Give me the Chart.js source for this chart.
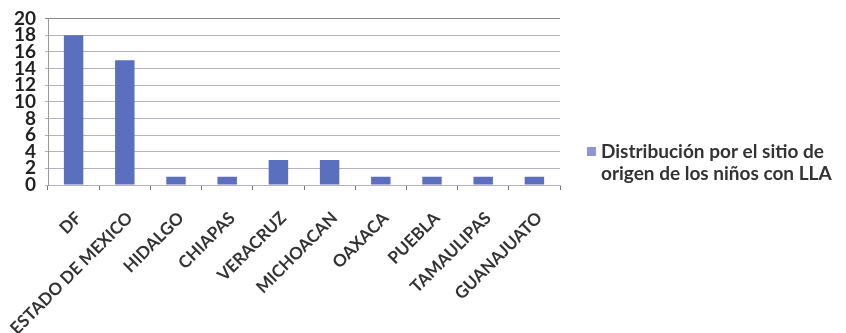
<!DOCTYPE html>
<html>
<head>
<meta charset="utf-8">
<script src="https://cdn.jsdelivr.net/npm/chart.js@4"></script>
<style>
  body { margin: 0; background: #fff; }
  #wrap { width: 846px; height: 333px; }
</style>
</head>
<body>
<div id="wrap"><canvas id="origen-chart"></canvas></div>
<script>
// Origin of the children, by state
const estados = ["DF", "ESTADO DE MEXICO", "HIDALGO", "CHIAPAS", "VERACRUZ", "MICHOACAN", "OAXACA", "PUEBLA", "TAMAULIPAS", "GUANAJUATO"];
const ninos = [18, 15, 1, 1, 3, 3, 1, 1, 1, 1];
const serieLabel = ["Distribución por el sitio de", "origen de los niños con LLA"];
const yTicks = [0, 2, 4, 6, 8, 10, 12, 14, 16, 18, 20];

const barColor = '#5b6fbf';
const gridColor = '#b9aec8';

// legend drawn by hand so the label can wrap on two lines
const sideLegend = {
    id: 'sideLegend',
    afterDraw(chart) {
        const ctx = chart.ctx;
        ctx.save();
        ctx.fillStyle = '#8d96d6';
        ctx.fillRect(587, 147, 9, 9);
        ctx.fillStyle = '#333';
        ctx.font = 'bold 19px Lato';
        ctx.textBaseline = 'middle';
        ctx.fillText(serieLabel[0], 601, 152);
        ctx.fillText(serieLabel[1], 601, 174);
        ctx.restore();
    }
};

const origenChart = new Chart(document.getElementById('origen-chart'), {
    type: 'bar',
    data: {
        labels: estados,
        datasets: [{
            label: serieLabel.join(' '),
            data: ninos,
            backgroundColor: barColor,
            barPercentage: 0.38,
            categoryPercentage: 1
        }]
    },
    options: {
        responsive: true,
        maintainAspectRatio: false,
        animation: false,
        layout: {
            padding: { top: 9, right: 286, left: 10, bottom: 0 }
        },
        scales: {
            x: {
                afterFit(axis) { axis.height = 148; },
                grid: {
                    offset: true,
                    drawOnChartArea: false,
                    color: '#777',
                    tickLength: 5
                },
                border: { color: gridColor },
                ticks: {
                    autoSkip: false,
                    maxRotation: 45,
                    minRotation: 45,
                    padding: 18,
                    labelOffset: 5,
                    color: '#333',
                    font: { family: 'Lato', size: 17, weight: 'bold' }
                }
            },
            y: {
                min: 0,
                max: 20,
                afterFit(axis) { axis.width = 38; },
                afterBuildTicks(axis) {
                    axis.ticks = yTicks.map(v => ({ value: v }));
                },
                grid: {
                    color: ctx => ctx.tick.value === 20 ? '#888' : gridColor,
                    tickLength: 3
                },
                border: { color: '#999' },
                ticks: {
                    autoSkip: false,
                    padding: 9,
                    color: '#222',
                    font: { family: 'Lato', size: 19, weight: 'bold', lineHeight: 1 }
                }
            }
        },
        plugins: {
            legend: { display: false },
            tooltip: { enabled: false }
        }
    },
    plugins: [sideLegend]
});
</script>
</body>
</html>
